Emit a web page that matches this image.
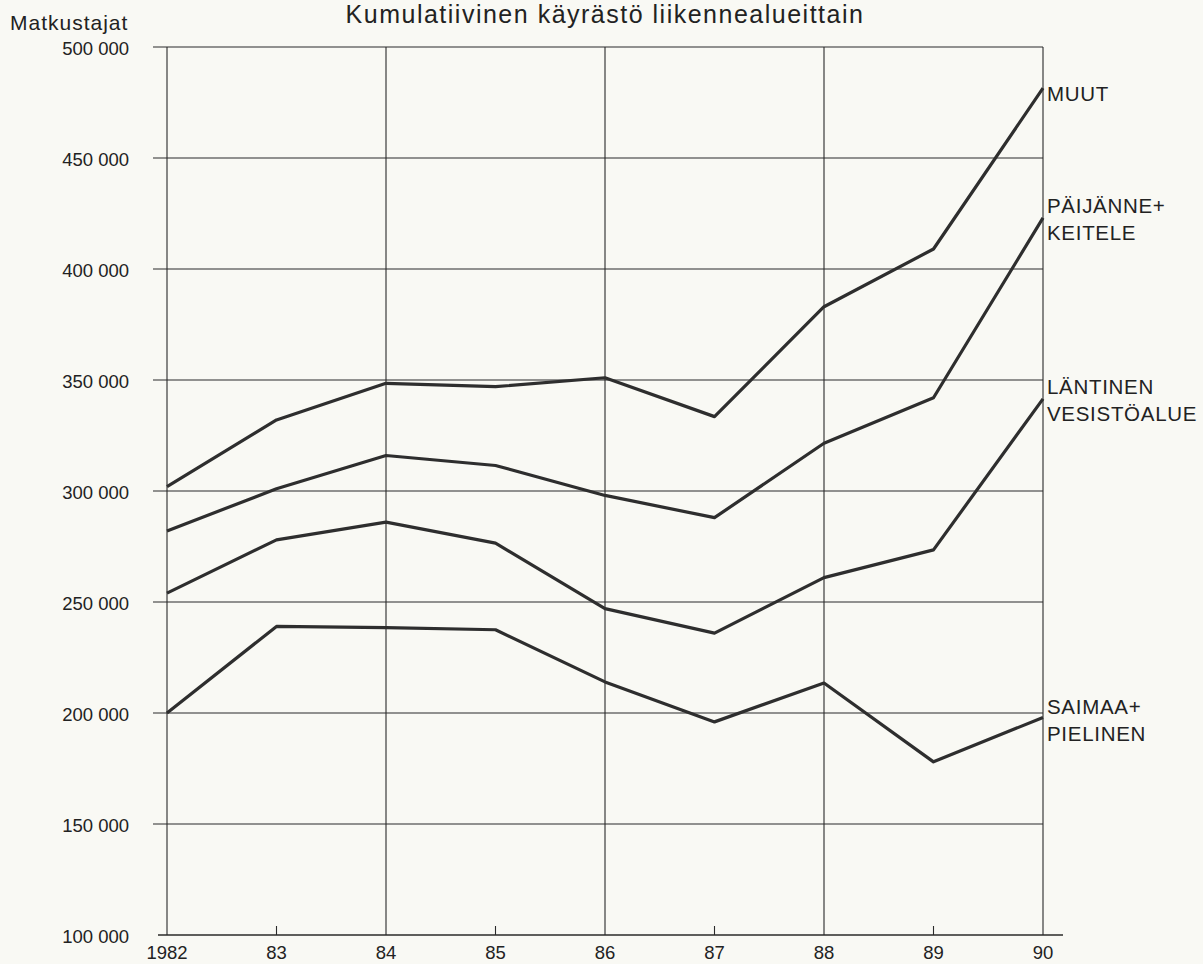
<!DOCTYPE html>
<html>
<head>
<meta charset="utf-8">
<script src="https://cdn.jsdelivr.net/npm/d3@7"></script>
<style>
  body { margin: 0; background: #f9f9f4; }
  text { font-family: "Liberation Sans", Arial, sans-serif; fill: #222; }
</style>
</head>
<body>
<div id="container"></div>
<script>
"use strict";

const years = [1982, 1983, 1984, 1985, 1986, 1987, 1988, 1989, 1990];
const yearLabels = ["1982", "83", "84", "85", "86", "87", "88", "89", "90"];
const yTicks = [100000, 150000, 200000, 250000, 300000, 350000, 400000, 450000, 500000];

// Cumulative values, bottom series first.
const saimaa = [200000, 239000, 238500, 237500, 214000, 196000, 213500, 178000, 198000];
const lantinen = [254000, 278000, 286000, 276500, 247000, 236000, 261000, 273500, 341500];
const paijanne = [282000, 301000, 316000, 311500, 298000, 288000, 321500, 342000, 423000];
const muut = [302000, 332000, 348500, 347000, 351000, 333500, 383000, 409000, 481500];

const seriesNames = [["SAIMAA+", "PIELINEN"], ["LÄNTINEN", "VESISTÖALUE"], ["PÄIJÄNNE+", "KEITELE"], ["MUUT"]];
const seriesValues = [saimaa, lantinen, paijanne, muut];

const width = 1203;
const height = 964;
const margin = { top: 47, bottom: 29, left: 167, right: 160 };

const x = d3
  .scaleLinear()
  .domain([1982, 1990])
  .range([margin.left, width - margin.right]);
const y = d3
  .scaleLinear()
  .domain([100000, 500000])
  .range([height - margin.bottom, margin.top]);

const svg = d3
  .create("svg")
  .attr("width", width)
  .attr("height", height);

const ink = "#2a2a2a";

// Horizontal grid lines (the bottom one is the x-axis and runs a bit further).
svg
  .append("g")
  .selectAll("line")
  .data(yTicks)
  .enter()
  .append("line")
  .attr("x1", (d) => (d === 100000 ? margin.left - 9 : margin.left - 14))
  .attr("x2", (d) => (d === 100000 ? x(1990) + 20 : x(1990)))
  .attr("y1", (d) => y(d))
  .attr("y2", (d) => y(d))
  .attr("stroke", ink)
  .attr("stroke-width", (d) => (d === 100000 ? 1.6 : 1.1));

// Vertical grid lines on even years, short ticks on odd years.
svg
  .append("g")
  .selectAll("line")
  .data(years)
  .enter()
  .append("line")
  .attr("x1", (d) => x(d))
  .attr("x2", (d) => x(d))
  .attr("y1", (d) => ((d - 1982) % 2 === 0 ? y(500000) : y(100000) - 9))
  .attr("y2", y(100000))
  .attr("stroke", ink)
  .attr("stroke-width", 1.1);

// Y tick labels.
svg
  .append("g")
  .selectAll("text")
  .data(yTicks)
  .enter()
  .append("text")
  .attr("x", 129)
  .attr("y", (d) => y(d) + 8)
  .attr("text-anchor", "end")
  .style("font-size", "18.5px")
  .text((d) => d3.format(",")(d).replace(",", " "));

// X tick labels.
svg
  .append("g")
  .selectAll("text")
  .data(years)
  .enter()
  .append("text")
  .attr("x", (d) => x(d))
  .attr("y", height - 5)
  .attr("text-anchor", "middle")
  .style("font-size", "18.5px")
  .text((d, i) => yearLabels[i]);

// Series lines.
const line = d3
  .line()
  .x((d, i) => x(years[i]))
  .y((d) => y(d));

svg
  .append("g")
  .selectAll("path")
  .data(seriesValues)
  .enter()
  .append("path")
  .attr("d", line)
  .attr("fill", "none")
  .attr("stroke", "#2e2e2e")
  .attr("stroke-width", 3.2)
  .attr("stroke-linejoin", "round");

// Series labels at the right end.
const labelShift = [-3, -5, -5, 13];
seriesNames.forEach((names, i) => {
  const last = seriesValues[i][seriesValues[i].length - 1];
  const t = svg
    .append("text")
    .attr("x", x(1990) + 4)
    .attr("y", y(last) + labelShift[i])
    .style("font-size", "20.5px")
    .style("letter-spacing", "0.7px");
  names.forEach((n, j) => {
    t.append("tspan")
      .attr("x", x(1990) + 4)
      .attr("dy", j === 0 ? 0 : 27)
      .text(n);
  });
});

// Titles.
svg
  .append("text")
  .attr("x", 10)
  .attr("y", 30)
  .style("font-size", "21px")
  .style("letter-spacing", "1px")
  .text("Matkustajat");

svg
  .append("text")
  .attr("x", 605)
  .attr("y", 23)
  .attr("text-anchor", "middle")
  .style("font-size", "25px")
  .style("letter-spacing", "1.5px")
  .text("Kumulatiivinen käyrästö liikennealueittain");

container.append(svg.node());
</script>
</body>
</html>
